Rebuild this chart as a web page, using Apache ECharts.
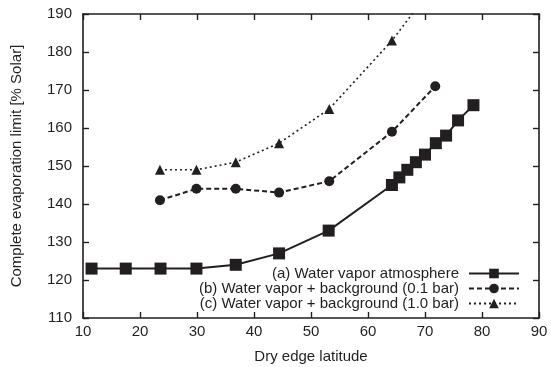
<!DOCTYPE html>
<html><head><meta charset="utf-8">
<script src="https://cdn.jsdelivr.net/npm/echarts@6/dist/echarts.min.js"></script>
<style>html,body{margin:0;padding:0;background:#fff}#c{width:551px;height:367px}</style>
</head><body><div id="c"></div>
<script>
const latA = [11.5, 17.5, 23.6, 29.9, 36.8, 44.4, 53.1, 64.2, 65.5, 66.9, 68.4, 70.0, 71.9, 73.7, 75.8, 78.5];
const valA = [123, 123, 123, 123, 124, 127, 133, 145, 147, 149, 151, 153, 156, 158, 162, 166];
const latB = [23.5, 29.9, 36.8, 44.4, 53.2, 64.2, 71.8];
const valB = [141, 144, 144, 143, 146, 159, 171];
const latC = [23.5, 29.9, 36.8, 44.4, 53.2, 64.2, 71.8];
const valC = [149, 149, 151, 156, 165, 183, 198];
const names = ['(a) Water vapor atmosphere', '(b) Water vapor + background (0.1 bar)', '(c) Water vapor + background (1.0 bar)'];
const xTitle = 'Dry edge latitude';
const yTitle = 'Complete evaporation limit [% Solar]';

const ink = '#231f20';
const font = '"Liberation Sans", Arial, Helvetica, sans-serif';
const pairs = (xs, ys) => xs.map((x, i) => [x, ys[i]]);

const chart = echarts.init(document.getElementById('c'), null, {renderer: 'canvas'});
const axisCommon = {
  axisLine: {show: true, onZero: false, lineStyle: {color: ink, width: 1.6}},
  axisTick: {show: true, inside: true, length: 6, lineStyle: {color: ink, width: 1.4}},
  splitLine: {show: false}
};
function legendFor(i, top) {
  return {
    data: [names[i]], right: 31, top: top, orient: 'vertical', align: 'right',
    itemWidth: 50, itemHeight: 12, padding: 0,
    textStyle: {fontFamily: font, fontSize: 15, color: ink, padding: [0, 5, 0, 0]}
  };
}
chart.setOption({
  animation: false,
  grid: {left: 83, right: 12, top: 14, bottom: 49, containLabel: false, outerBoundsMode: 'none'},
  legend: [legendFor(0, 266), legendFor(1, 281), legendFor(2, 296)],
  xAxis: [
    Object.assign({type: 'value', min: 10, max: 90, interval: 10, position: 'bottom',
      name: xTitle, nameLocation: 'middle', nameGap: 31,
      nameTextStyle: {fontFamily: font, fontSize: 15, color: ink},
      axisLabel: {fontFamily: font, fontSize: 15, color: ink, margin: 6}}, axisCommon),
    Object.assign({type: 'value', min: 10, max: 90, interval: 10, position: 'top',
      axisLabel: {show: false}}, axisCommon)
  ],
  yAxis: [
    Object.assign({type: 'value', min: 110, max: 190, interval: 10, position: 'left',
      name: yTitle, nameLocation: 'middle', nameGap: 59,
      nameTextStyle: {fontFamily: font, fontSize: 15, color: ink},
      axisLabel: {fontFamily: font, fontSize: 15, color: ink, margin: 11}}, axisCommon),
    Object.assign({type: 'value', min: 110, max: 190, interval: 10, position: 'right',
      axisLabel: {show: false}}, axisCommon)
  ],
  series: [
    {name: names[0], type: 'line', data: pairs(latA, valA), symbol: 'rect', symbolSize: 12,
      clip: true, lineStyle: {color: ink, width: 2}, itemStyle: {color: ink}, z: 3},
    {name: names[1], type: 'line', data: pairs(latB, valB), symbol: 'circle', symbolSize: 10,
      clip: true, lineStyle: {color: ink, width: 2, type: [5, 3]}, itemStyle: {color: ink}, z: 2},
    {name: names[2], type: 'line', data: pairs(latC, valC), symbol: 'triangle', symbolSize: 10,
      clip: true, lineStyle: {color: ink, width: 1.6, type: [2, 3]}, itemStyle: {color: ink}, z: 1}
  ]
});
</script></body></html>
